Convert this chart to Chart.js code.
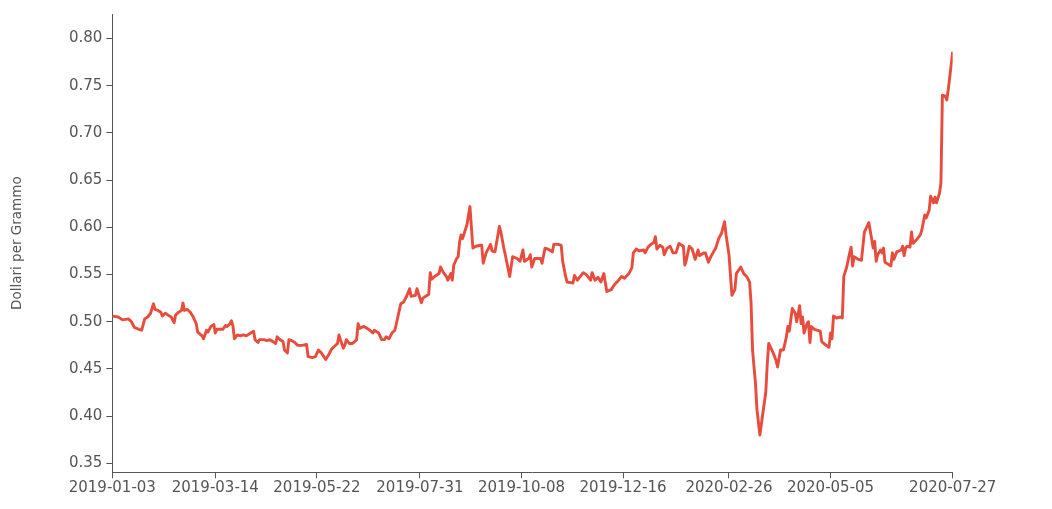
<!DOCTYPE html>
<html>
<head>
<meta charset="utf-8">
<script src="https://cdn.jsdelivr.net/npm/chart.js@4.4.1/dist/chart.umd.min.js"></script>
<style>
  html, body { margin: 0; padding: 0; background: #ffffff; }
  #wrap { width: 1052px; height: 509px; position: relative; }
</style>
</head>
<body>
<div id="wrap"><canvas id="c" width="1052" height="509"></canvas></div>
<script>
// Series start date; x positions are calendar days after this date
const startDate = '2019-01-03';

// Days after 2019-01-03 (trading days)
const dayOffsets = [
  0, 4, 7, 11, 13, 15, 18, 20, 22, 24, 26, 28, 29, 31, 33, 34, 36, 38, 40, 42,
  43, 45, 47, 48, 49, 51, 53, 55, 57, 58, 61, 62, 64, 65, 67, 69, 70, 71, 73, 75,
  77, 78, 80, 81, 82, 83, 85, 87, 89, 91, 94, 96, 97, 99, 100, 103, 105, 107, 109, 111,
  112, 114, 116, 117, 119, 120, 122, 124, 126, 129, 132, 133, 136, 138, 140, 142, 145, 147, 149, 151,
  153, 154, 155, 157, 158, 159, 161, 163, 164, 166, 167, 168, 171, 173, 175, 177, 178, 181, 183, 185,
  186, 188, 190, 192, 194, 196, 198, 200, 202, 203, 206, 207, 210, 211, 214, 215, 216, 217, 219, 222,
  223, 225, 227, 228, 230, 231, 232, 234, 235, 236, 237, 238, 241, 243, 245, 247, 250, 251, 252, 254,
  257, 258, 260, 263, 264, 266, 267, 270, 272, 275, 277, 279, 280, 283, 284, 285, 287, 288, 291, 292,
  294, 296, 299, 300, 303, 305, 306, 308, 309, 313, 314, 316, 318, 320, 322, 325, 326, 328, 330, 332,
  334, 335, 336, 339, 341, 344, 346, 348, 351, 353, 354, 356, 358, 361, 362, 364, 366, 368, 369, 370,
  372, 374, 375, 377, 379, 381, 383, 385, 388, 389, 390, 392, 394, 396, 398, 399, 402, 403, 405, 407,
  410, 412, 414, 416, 417, 419, 421, 423, 424, 427, 429, 431, 433, 434, 435, 437, 438, 440, 442, 444,
  445, 446, 449, 451, 452, 454, 456, 458, 459, 460, 462, 464, 465, 467, 468, 469, 470, 472, 473, 474,
  475, 477, 481, 482, 485, 487, 488, 489, 490, 492, 495, 496, 497, 499, 501, 502, 503, 504, 507, 509,
  511, 514, 516, 517, 518, 519, 520, 522, 523, 524, 525, 527, 529, 530, 531, 533, 536, 537, 538, 539,
  540, 542, 543, 544, 547, 549, 550, 552, 553, 555, 556, 558, 559, 560, 562, 563, 564, 566, 567, 568,
  571
];

// Price in dollars per gram
const prices = [
  0.506, 0.505, 0.502, 0.503, 0.500, 0.494, 0.492, 0.491, 0.503, 0.505, 0.509, 0.519, 0.513, 0.512, 0.510, 0.506, 0.509, 0.507, 0.505, 0.499,
  0.507, 0.510, 0.512, 0.520, 0.512, 0.513, 0.510, 0.505, 0.498, 0.489, 0.485, 0.482, 0.491, 0.489, 0.495, 0.497, 0.488, 0.492, 0.492, 0.492,
  0.496, 0.495, 0.498, 0.501, 0.495, 0.482, 0.486, 0.485, 0.486, 0.485, 0.488, 0.490, 0.481, 0.478, 0.481, 0.481, 0.480, 0.481, 0.479, 0.477,
  0.484, 0.481, 0.479, 0.470, 0.467, 0.481, 0.480, 0.478, 0.475, 0.475, 0.476, 0.463, 0.462, 0.463, 0.470, 0.467, 0.460, 0.465, 0.471, 0.474,
  0.477, 0.486, 0.481, 0.472, 0.475, 0.481, 0.477, 0.477, 0.478, 0.481, 0.498, 0.493, 0.495, 0.493, 0.491, 0.488, 0.491, 0.488, 0.481, 0.481,
  0.484, 0.482, 0.488, 0.491, 0.505, 0.519, 0.521, 0.527, 0.535, 0.527, 0.528, 0.535, 0.520, 0.525, 0.528, 0.529, 0.552, 0.545, 0.548, 0.551,
  0.558, 0.552, 0.548, 0.544, 0.551, 0.544, 0.560, 0.567, 0.569, 0.585, 0.592, 0.588, 0.603, 0.622, 0.578, 0.580, 0.581, 0.581, 0.562, 0.573,
  0.582, 0.575, 0.574, 0.601, 0.595, 0.578, 0.571, 0.548, 0.569, 0.567, 0.564, 0.576, 0.564, 0.567, 0.571, 0.558, 0.567, 0.567, 0.567, 0.562,
  0.578, 0.577, 0.574, 0.582, 0.582, 0.581, 0.564, 0.548, 0.542, 0.541, 0.549, 0.544, 0.548, 0.552, 0.550, 0.544, 0.552, 0.544, 0.547, 0.542,
  0.551, 0.541, 0.532, 0.534, 0.539, 0.544, 0.548, 0.546, 0.551, 0.557, 0.573, 0.577, 0.575, 0.576, 0.573, 0.579, 0.582, 0.584, 0.590, 0.577,
  0.581, 0.579, 0.571, 0.578, 0.580, 0.573, 0.573, 0.583, 0.580, 0.560, 0.565, 0.580, 0.577, 0.566, 0.576, 0.570, 0.573, 0.573, 0.563, 0.570,
  0.578, 0.588, 0.594, 0.606, 0.592, 0.571, 0.528, 0.534, 0.551, 0.558, 0.551, 0.548, 0.542, 0.520, 0.470, 0.435, 0.407, 0.380, 0.403, 0.425,
  0.455, 0.477, 0.467, 0.459, 0.452, 0.470, 0.470, 0.484, 0.495, 0.490, 0.514, 0.509, 0.500, 0.517, 0.498, 0.505, 0.488, 0.498, 0.500, 0.478,
  0.495, 0.492, 0.490, 0.479, 0.475, 0.473, 0.488, 0.482, 0.506, 0.504, 0.505, 0.504, 0.548, 0.558, 0.573, 0.579, 0.559, 0.569, 0.566, 0.565,
  0.595, 0.605, 0.587, 0.578, 0.585, 0.564, 0.571, 0.576, 0.573, 0.578, 0.563, 0.561, 0.559, 0.573, 0.566, 0.574, 0.576, 0.580, 0.570, 0.578,
  0.580, 0.579, 0.595, 0.583, 0.588, 0.592, 0.597, 0.613, 0.610, 0.618, 0.633, 0.626, 0.632, 0.626, 0.636, 0.647, 0.740, 0.739, 0.735, 0.746,
  0.786
];

// X axis tick labels (dates)
const xTickLabels = ['2019-01-03', '2019-03-14', '2019-05-22', '2019-07-31', '2019-10-08',
                     '2019-12-16', '2020-02-26', '2020-05-05', '2020-07-27'];
// Y axis tick values
const yTickValues = [0.35, 0.40, 0.45, 0.50, 0.55, 0.60, 0.65, 0.70, 0.75, 0.80];
const yAxisTitle = 'Dollari per Grammo';

const DAY = 86400000;
const daysFromStart = s => Math.round((Date.parse(s) - Date.parse(startDate)) / DAY);
const xTickOffsets = xTickLabels.map(daysFromStart);

const points = dayOffsets.map((d, i) => ({ x: d, y: prices[i] }));

const axisColor = '#555555';
const textColor = '#555555';
const tickFont = { family: 'DejaVu Sans', size: 15 };

new Chart(document.getElementById('c'), {
  type: 'line',
  data: {
    datasets: [{
      data: points,
      borderColor: '#e74c3c',
      borderWidth: 2.9,
      pointRadius: 0,
      pointHoverRadius: 0,
      fill: false,
      tension: 0,
      borderJoinStyle: 'round'
    }]
  },
  options: {
    responsive: false,
    animation: false,
    events: [],
    layout: { padding: { left: 0, right: 99.3, top: 14, bottom: 0 } },
    plugins: { legend: { display: false }, tooltip: { enabled: false } },
    scales: {
      x: {
        type: 'linear',
        min: 0,
        max: daysFromStart(xTickLabels[xTickLabels.length - 1]),
        afterBuildTicks: s => { s.ticks = xTickOffsets.map(v => ({ value: v })); },
        afterFit: s => { s.height = 36.7; },
        ticks: {
          autoSkip: false,
          maxRotation: 0,
          minRotation: 0,
          padding: 1,
          color: textColor,
          font: tickFont,
          callback: (v) => { const i = xTickOffsets.indexOf(v); return i >= 0 ? xTickLabels[i] : ''; }
        },
        grid: { drawOnChartArea: false, drawTicks: true, tickLength: 6, color: axisColor, lineWidth: 1 },
        border: { display: true, color: axisColor, width: 1 }
      },
      y: {
        type: 'linear',
        min: 0.3405,
        max: 0.826,
        afterBuildTicks: s => { s.ticks = yTickValues.map(v => ({ value: v })); },
        afterFit: s => { s.width = 112.3; },
        ticks: {
          padding: 4,
          color: textColor,
          font: tickFont,
          callback: v => Number(v).toFixed(2)
        },
        grid: { drawOnChartArea: false, drawTicks: true, tickLength: 6, color: axisColor, lineWidth: 1 },
        border: { display: true, color: axisColor, width: 1 },
        title: {
          display: true,
          text: yAxisTitle,
          color: textColor,
          font: { family: 'DejaVu Sans', size: 13.5 },
          padding: { top: 9, bottom: 0 }
        }
      }
    }
  }
});
</script>
</body>
</html>
